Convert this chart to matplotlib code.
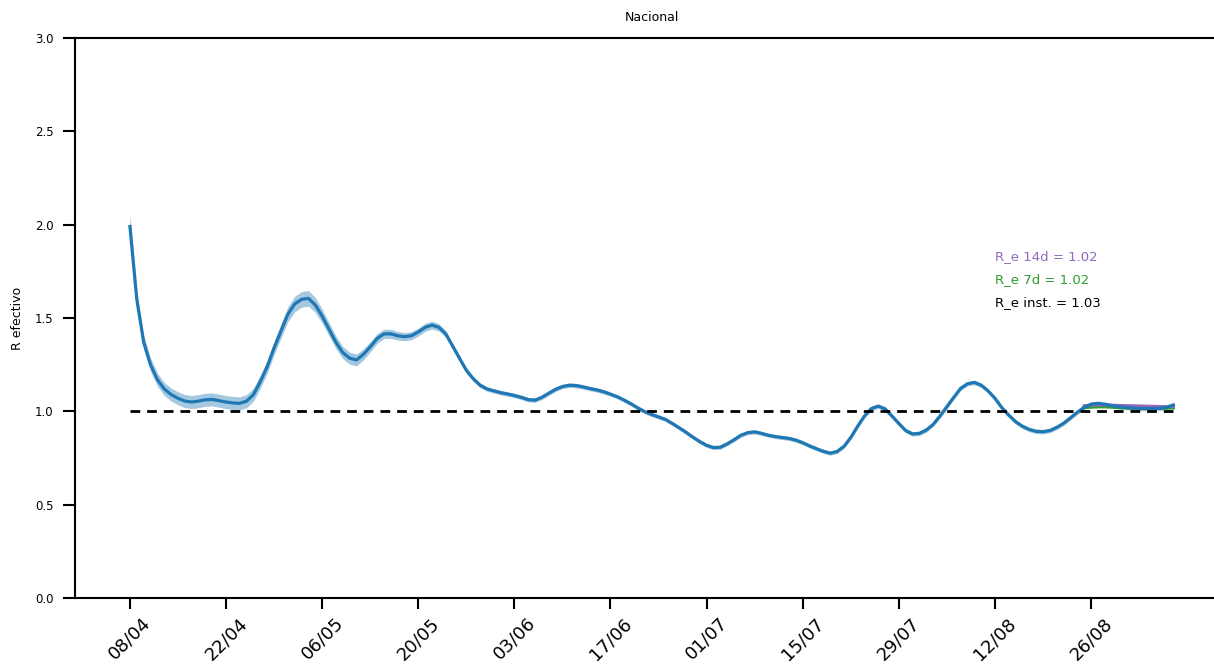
import matplotlib
matplotlib.use("Agg")
import matplotlib.pyplot as plt
import matplotlib.dates as mdates
import datetime as dt

start = dt.date(2020, 4, 8)

# R effective (instantaneous), one value per day starting 08/04
r_inst = [1.99, 1.60, 1.37, 1.25, 1.17, 1.12, 1.09, 1.07, 1.055, 1.05,
          1.055, 1.062, 1.064, 1.057, 1.05, 1.045, 1.043, 1.055, 1.09, 1.16,
          1.24, 1.34, 1.43, 1.52, 1.575, 1.60, 1.605, 1.57, 1.51, 1.44,
          1.37, 1.315, 1.285, 1.275, 1.305, 1.345, 1.39, 1.415, 1.415, 1.405,
          1.40, 1.405, 1.425, 1.45, 1.462, 1.45, 1.415, 1.35, 1.285, 1.22,
          1.175, 1.14, 1.12, 1.11, 1.10, 1.093, 1.085, 1.075, 1.063, 1.06,
          1.075, 1.097, 1.118, 1.133, 1.14, 1.138, 1.131, 1.122, 1.115, 1.105,
          1.092, 1.078, 1.06, 1.04, 1.018, 0.998, 0.983, 0.97, 0.957, 0.935,
          0.912, 0.888, 0.862, 0.838, 0.818, 0.806, 0.808, 0.826, 0.848, 0.872,
          0.886, 0.89, 0.882, 0.872, 0.865, 0.86, 0.855, 0.846, 0.832, 0.815,
          0.80, 0.786, 0.776, 0.785, 0.812, 0.86, 0.92, 0.975, 1.015, 1.028,
          1.013, 0.975, 0.935, 0.897, 0.879, 0.882, 0.90, 0.93, 0.975, 1.025,
          1.075, 1.123, 1.148, 1.155, 1.14, 1.11, 1.07, 1.02, 0.98, 0.945,
          0.92, 0.903, 0.893, 0.891, 0.897, 0.914, 0.936, 0.965, 0.995, 1.022,
          1.038, 1.043, 1.038, 1.031, 1.025, 1.021, 1.018, 1.016, 1.015, 1.015,
          1.016, 1.022, 1.034]

# half-width of the credible band, per day
ci_half = [0.07, 0.045, 0.037, 0.035, 0.035, 0.035, 0.035, 0.035, 0.035, 0.035,
           0.035, 0.035, 0.035, 0.035, 0.035, 0.035, 0.035, 0.035, 0.035, 0.035,
           0.035, 0.035, 0.038, 0.04, 0.042, 0.042, 0.042, 0.04, 0.038, 0.035,
           0.034, 0.033, 0.032, 0.032, 0.03, 0.028, 0.026, 0.025, 0.024, 0.023,
           0.022, 0.022, 0.022, 0.022, 0.021, 0.02, 0.018, 0.016, 0.015, 0.014,
           0.013, 0.013, 0.012, 0.012, 0.012, 0.012, 0.012, 0.012, 0.012, 0.012,
           0.012, 0.012, 0.012, 0.012, 0.012, 0.012, 0.012, 0.012, 0.012, 0.012,
           0.011, 0.011, 0.011, 0.011, 0.011, 0.011, 0.011, 0.011, 0.011, 0.011,
           0.011, 0.011, 0.011, 0.011, 0.011, 0.011, 0.011, 0.011, 0.011, 0.011,
           0.011, 0.011, 0.011, 0.011, 0.011, 0.011, 0.011, 0.011, 0.011, 0.011,
           0.011, 0.011, 0.011, 0.011, 0.011, 0.011, 0.011, 0.011, 0.012, 0.012,
           0.012, 0.012, 0.012, 0.012, 0.012, 0.012, 0.012, 0.012, 0.012, 0.012,
           0.012, 0.012, 0.012, 0.012, 0.012, 0.012, 0.012, 0.012, 0.012, 0.012,
           0.012, 0.012, 0.012, 0.012, 0.012, 0.012, 0.012, 0.012, 0.012, 0.012,
           0.012, 0.012, 0.012, 0.012, 0.012, 0.012, 0.012, 0.012, 0.012, 0.012,
           0.012, 0.012, 0.013]

# 14-day and 7-day averaged R_e, days 139..152
avg_start_day = 139
r_14d = [1.03, 1.033, 1.034, 1.034, 1.033, 1.032, 1.031, 1.03, 1.029, 1.028,
         1.027, 1.026, 1.025, 1.025]
r_7d = [1.02, 1.022, 1.024, 1.024, 1.022, 1.02, 1.018, 1.016, 1.015, 1.015,
        1.015, 1.016, 1.017, 1.018]

labels_txt = ["R_e 14d = 1.02", "R_e 7d = 1.02", "R_e inst. = 1.03"]
labels_col = ["#9467bd", "#2ca02c", "black"]
labels_y = [1.83, 1.705, 1.585]

tick_days = list(range(0, 150, 14))


def to_date(d):
    return mdates.date2num(start + dt.timedelta(days=d))


x = [to_date(d) for d in range(len(r_inst))]
lo = [v - h for v, h in zip(r_inst, ci_half)]
hi = [v + h for v, h in zip(r_inst, ci_half)]
x_avg = [to_date(avg_start_day + i) for i in range(len(r_14d))]

fig = plt.figure(figsize=(12.14, 6.66), dpi=100)
ax = fig.add_axes([0.0618, 0.102, 0.95, 0.841])

ax.fill_between(x, lo, hi, color="#1f77b4", alpha=0.4, lw=0, zorder=2)
ax.plot(x_avg, r_14d, color="#9467bd", lw=2.2, zorder=2.5)
ax.plot(x_avg, r_7d, color="#2ca02c", lw=2.2, zorder=2.4)
ax.plot(x, r_inst, color="#1f77b4", lw=2.3, zorder=3)
ax.plot([x[0], x[-1]], [1.0, 1.0], color="black", lw=2,
        linestyle=(0, (3.5, 2.5)), zorder=4)

for t, c, yv in zip(labels_txt, labels_col, labels_y):
    ax.text(to_date(126.2), yv, t, color=c, fontsize=9.5, va="center", ha="left")

ax.set_xlim(to_date(-7.22), to_date(160.96))
ax.set_ylim(0, 3)
ax.set_xticks([to_date(d) for d in tick_days])
ax.xaxis.set_major_formatter(mdates.DateFormatter("%d/%m"))
ax.set_yticks([0, 0.5, 1.0, 1.5, 2.0, 2.5, 3.0])
ax.set_yticklabels(["0.0", "0.5", "1.0", "1.5", "2.0", "2.5", "3.0"])
ax.tick_params(axis="x", labelsize=13, rotation=45, length=8, width=1.5)
ax.tick_params(axis="y", labelsize=8.5, length=8.5, width=1.5, pad=7)
for s in ["left", "bottom", "top", "right"]:
    ax.spines[s].set_linewidth(1.5)

ax.set_ylabel("R efectivo", fontsize=9, labelpad=8)
ax.set_title("Nacional", fontsize=9, pad=12)

fig.savefig("out.png", dpi=100)
